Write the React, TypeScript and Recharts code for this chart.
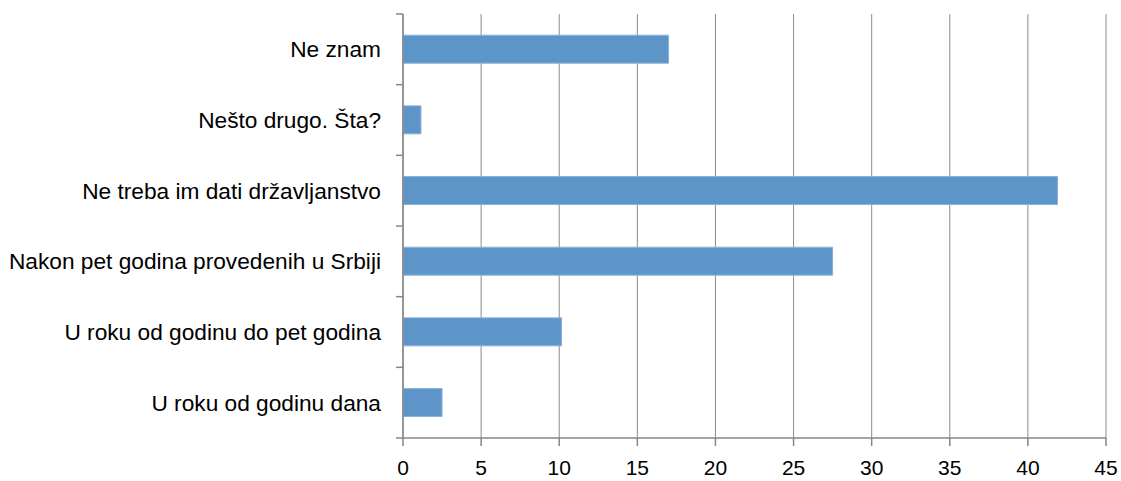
import { Bar, BarChart, CartesianGrid, XAxis, YAxis } from "recharts";

const categories = [
  "Ne znam",
  "Nešto drugo. Šta?",
  "Ne treba im dati državljanstvo",
  "Nakon pet godina provedenih u Srbiji",
  "U roku od godinu do pet godina",
  "U roku od godinu dana",
];
const values = [17, 1.15, 41.9, 27.5, 10.15, 2.5];
const xTicks = [0, 5, 10, 15, 20, 25, 30, 35, 40, 45];

const data = categories.map((name, i) => ({ name, value: values[i] }));

const W = 1121;
const H = 481;
const TOP = 14;
const BOTTOM = 43;
const BAND = (H - TOP - BOTTOM) / categories.length;
const FONT = "'Liberation Sans', Arial, sans-serif";

const YTick = (props: any) => {
  const { x, y, payload, index } = props;
  return (
    <g>
      <line x1={x + 15} x2={x + 22} y1={y - BAND / 2} y2={y - BAND / 2} stroke="#868686" strokeWidth={1.5} />
      {index === categories.length - 1 && (
        <line x1={x + 15} x2={x + 22} y1={y + BAND / 2} y2={y + BAND / 2} stroke="#868686" strokeWidth={1.5} />
      )}
      <text x={x} y={y} dy="0.35em" textAnchor="end" fill="#000" fontSize={22.7} fontFamily={FONT}>
        {payload.value}
      </text>
    </g>
  );
};

export default function App() {
  return (
    <div style={{ position: "absolute", left: 0, top: 0, background: "#fff" }}>
      <BarChart
        width={W}
        height={H}
        data={data}
        layout="vertical"
        margin={{ top: TOP, right: 15, bottom: 0, left: 0 }}
        barCategoryGap="30%"
      >
        <CartesianGrid horizontal={false} stroke="#8c8c8c" strokeWidth={1} />
        <XAxis
          type="number"
          domain={[0, 45]}
          ticks={xTicks}
          height={BOTTOM}
          tickSize={8}
          tickMargin={14}
          axisLine={{ stroke: "#868686", strokeWidth: 1.5 }}
          tickLine={{ stroke: "#868686", strokeWidth: 1.5 }}
          tick={{ fill: "#000", fontSize: 21, fontFamily: FONT }}
        />
        <YAxis
          type="category"
          dataKey="name"
          width={403}
          tickSize={7}
          tickMargin={15}
          tickLine={false}
          axisLine={{ stroke: "#868686", strokeWidth: 1.5 }}
          tick={<YTick />}
          interval={0}
        />
        <Bar dataKey="value" fill="#5E95C9" stroke="#8DB2DA" strokeWidth={1} isAnimationActive={false} />
      </BarChart>
    </div>
  );
}
